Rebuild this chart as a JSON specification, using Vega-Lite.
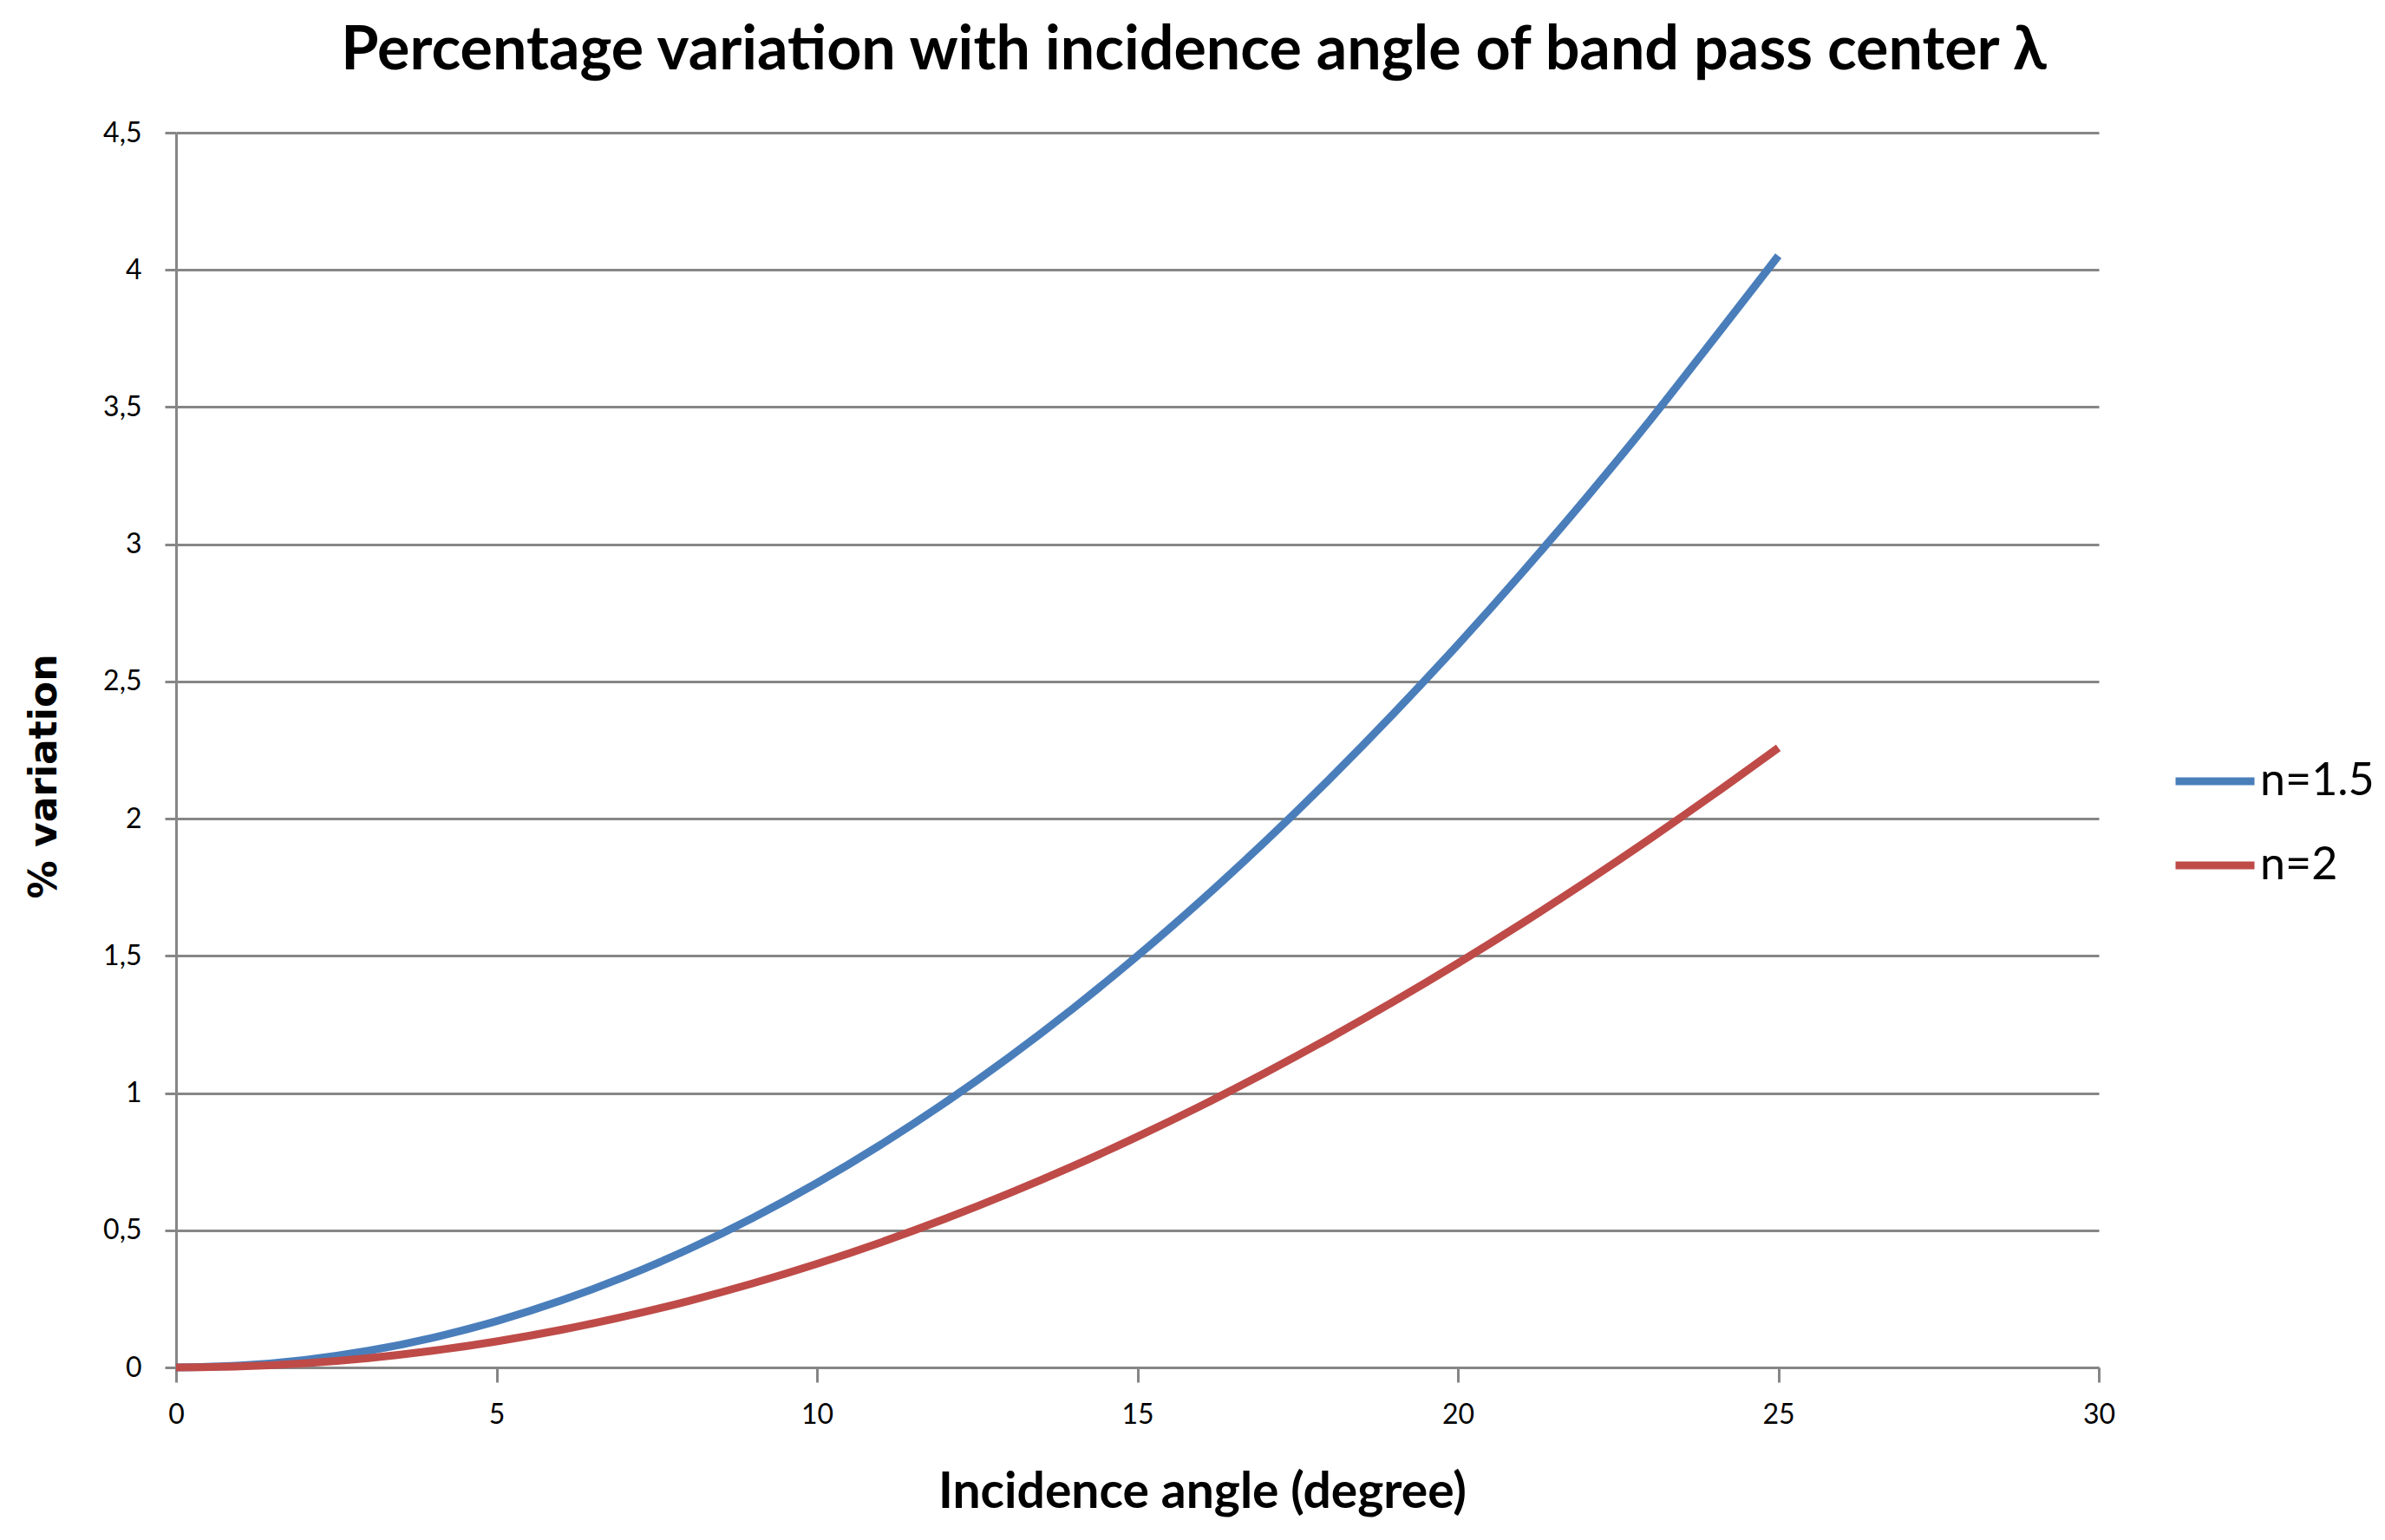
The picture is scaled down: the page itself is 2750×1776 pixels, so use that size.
{
  "$schema": "https://vega.github.io/schema/vega-lite/v6.json",
  "autosize": {"type": "none"},
  "width": 2217,
  "height": 1424,
  "padding": {"left": 203, "top": 153, "right": 330, "bottom": 199},
  "background": "white",
  "title": {
    "text": "Percentage variation with incidence angle of band pass center λ",
    "frame": "group",
    "anchor": "middle",
    "dx": 65,
    "offset": 42,
    "font": "Lato",
    "fontSize": 70,
    "fontWeight": "bold",
    "color": "black"
  },
  "data": {
    "values": [
      {"angle": 0, "variation": 0, "series": "n=1.5"},
      {"angle": 1, "variation": 0.0068, "series": "n=1.5"},
      {"angle": 2, "variation": 0.0271, "series": "n=1.5"},
      {"angle": 3, "variation": 0.0609, "series": "n=1.5"},
      {"angle": 4, "variation": 0.1082, "series": "n=1.5"},
      {"angle": 5, "variation": 0.1689, "series": "n=1.5"},
      {"angle": 6, "variation": 0.2431, "series": "n=1.5"},
      {"angle": 7, "variation": 0.3306, "series": "n=1.5"},
      {"angle": 8, "variation": 0.4313, "series": "n=1.5"},
      {"angle": 9, "variation": 0.5453, "series": "n=1.5"},
      {"angle": 10, "variation": 0.6724, "series": "n=1.5"},
      {"angle": 11, "variation": 0.8124, "series": "n=1.5"},
      {"angle": 12, "variation": 0.9653, "series": "n=1.5"},
      {"angle": 13, "variation": 1.1309, "series": "n=1.5"},
      {"angle": 14, "variation": 1.3092, "series": "n=1.5"},
      {"angle": 15, "variation": 1.4998, "series": "n=1.5"},
      {"angle": 16, "variation": 1.703, "series": "n=1.5"},
      {"angle": 17, "variation": 1.918, "series": "n=1.5"},
      {"angle": 18, "variation": 2.1451, "series": "n=1.5"},
      {"angle": 19, "variation": 2.3839, "series": "n=1.5"},
      {"angle": 20, "variation": 2.6342, "series": "n=1.5"},
      {"angle": 21, "variation": 2.8959, "series": "n=1.5"},
      {"angle": 22, "variation": 3.1687, "series": "n=1.5"},
      {"angle": 23, "variation": 3.4523, "series": "n=1.5"},
      {"angle": 24, "variation": 3.7505, "series": "n=1.5"},
      {"angle": 25, "variation": 4.0511, "series": "n=1.5"},
      {"angle": 0, "variation": 0, "series": "n=2"},
      {"angle": 1, "variation": 0.0038, "series": "n=2"},
      {"angle": 2, "variation": 0.0152, "series": "n=2"},
      {"angle": 3, "variation": 0.0342, "series": "n=2"},
      {"angle": 4, "variation": 0.0608, "series": "n=2"},
      {"angle": 5, "variation": 0.095, "series": "n=2"},
      {"angle": 6, "variation": 0.1367, "series": "n=2"},
      {"angle": 7, "variation": 0.1858, "series": "n=2"},
      {"angle": 8, "variation": 0.2424, "series": "n=2"},
      {"angle": 9, "variation": 0.3064, "series": "n=2"},
      {"angle": 10, "variation": 0.3776, "series": "n=2"},
      {"angle": 11, "variation": 0.4561, "series": "n=2"},
      {"angle": 12, "variation": 0.5418, "series": "n=2"},
      {"angle": 13, "variation": 0.6346, "series": "n=2"},
      {"angle": 14, "variation": 0.7343, "series": "n=2"},
      {"angle": 15, "variation": 0.8409, "series": "n=2"},
      {"angle": 16, "variation": 0.9543, "series": "n=2"},
      {"angle": 17, "variation": 1.0743, "series": "n=2"},
      {"angle": 18, "variation": 1.2009, "series": "n=2"},
      {"angle": 19, "variation": 1.3338, "series": "n=2"},
      {"angle": 20, "variation": 1.4731, "series": "n=2"},
      {"angle": 21, "variation": 1.6185, "series": "n=2"},
      {"angle": 22, "variation": 1.7698, "series": "n=2"},
      {"angle": 23, "variation": 1.927, "series": "n=2"},
      {"angle": 24, "variation": 2.0898, "series": "n=2"},
      {"angle": 25, "variation": 2.2581, "series": "n=2"}
    ]
  },
  "mark": {"type": "line", "interpolate": "monotone", "strokeWidth": 9, "strokeCap": "butt"},
  "encoding": {
    "x": {
      "field": "angle",
      "type": "quantitative",
      "scale": {"domain": [0, 30], "nice": false},
      "axis": {
        "title": "Incidence angle (degree)",
        "values": [0, 5, 10, 15, 20, 25, 30],
        "grid": false,
        "labelFlush": false,
        "tickSize": 17,
        "labelPadding": 22,
        "titlePadding": 46,
        "titleFontSize": 57,
        "titleX": 1183
      }
    },
    "y": {
      "field": "variation",
      "type": "quantitative",
      "scale": {"domain": [0, 4.5], "nice": false},
      "axis": {
        "title": "% variation",
        "values": [0, 0.5, 1, 1.5, 2, 2.5, 3, 3.5, 4, 4.5],
        "labelExpr": "replace(toString(datum.value), '.', ',')",
        "grid": true,
        "tickSize": 13,
        "labelPadding": 27,
        "titlePadding": 45,
        "titleFont": "DejaVu Sans",
        "titleFontSize": 44,
        "titleY": 742
      }
    },
    "color": {
      "field": "series",
      "type": "nominal",
      "scale": {"domain": ["n=1.5", "n=2"], "range": ["#4A7EBB", "#BE4B48"]},
      "legend": {
        "title": null,
        "orient": "none",
        "legendX": 2301,
        "legendY": 698,
        "symbolType": "stroke",
        "symbolSize": 8281,
        "symbolStrokeWidth": 9,
        "labelOffset": 2,
        "labelFontSize": 52,
        "labelFont": "Lato",
        "labelColor": "black",
        "rowPadding": 21,
        "padding": 0
      }
    }
  },
  "config": {
    "view": {"stroke": null},
    "font": "Lato",
    "axis": {
      "domainColor": "#868686",
      "domainWidth": 3,
      "tickColor": "#868686",
      "tickWidth": 3,
      "gridColor": "#868686",
      "gridWidth": 3,
      "gridOpacity": 1,
      "labelFont": "Lato",
      "labelFontSize": 32,
      "labelColor": "black",
      "titleColor": "black",
      "titleFont": "Lato",
      "titleFontWeight": "bold"
    }
  }
}
